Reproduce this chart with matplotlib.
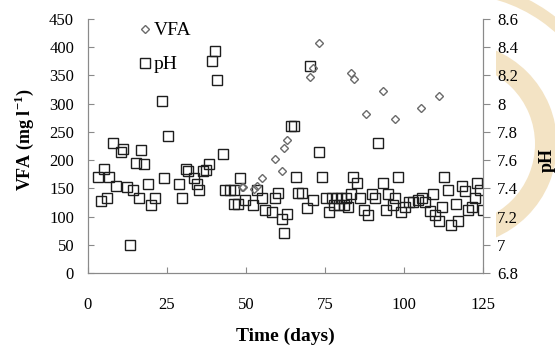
import numpy as np
import matplotlib
matplotlib.use("Agg")
import matplotlib.pyplot as plt
from matplotlib.patches import Wedge
from matplotlib.ticker import FuncFormatter

plt.rcParams['font.family'] = ['Liberation Serif', 'DejaVu Serif']
plt.rcParams['mathtext.fontset'] = 'custom'
plt.rcParams['mathtext.rm'] = 'Liberation Serif:bold'
plt.rcParams['mathtext.bf'] = 'Liberation Serif:bold'

# pH readings (squares, right axis)
ph_days = [3.1, 4.1, 5.2, 5.9, 6.7, 7.8, 8.9, 10.3, 11.2, 12.2, 13.3, 14.1, 15.1, 16.1,
           16.9, 17.8, 18.9, 19.8, 21.3, 23.3, 24.1, 25.2, 28.9, 29.8, 31.0, 31.8, 33.4,
           34.4, 35.2, 36.3, 37.2, 38.2, 39.1, 40.2, 40.9, 42.6, 43.4, 45.0, 46.3, 46.3,
           47.4, 48.2, 49.7, 52.1, 53.4, 55.0, 56.0, 58.3, 59.2, 60.2, 61.3, 62.1, 63.1,
           64.2, 65.2, 65.8, 66.5, 67.8, 69.4, 70.3, 71.3, 73.2, 74.2, 75.3, 76.3, 77.3,
           77.8, 78.8, 79.4, 80.2, 81.0, 81.6, 82.4, 83.2, 84.0, 85.2, 86.1, 87.4, 88.5,
           89.8, 90.8, 91.7, 93.2, 94.2, 95.0, 96.4, 97.1, 98.2, 99.0, 100.3, 101.7, 103.0,
           104.5, 105.6, 106.8, 108.2, 109.3, 109.8, 111.2, 111.9, 112.8, 113.8, 114.9,
           116.5, 117.2, 118.2, 119.3, 120.4, 121.6, 122.5, 123.2, 124.0, 124.9]
ph_vals = [7.48, 7.31, 7.54, 7.33, 7.48, 7.72, 7.42, 7.66, 7.68, 7.41, 7.00, 7.39, 7.58, 7.33,
           7.67, 7.57, 7.43, 7.28, 7.33, 8.02, 7.47, 7.77, 7.43, 7.33, 7.54, 7.52, 7.47,
           7.43, 7.39, 7.52, 7.53, 7.57, 8.30, 8.37, 8.17, 7.64, 7.39, 7.39, 7.39, 7.29,
           7.29, 7.47, 7.32, 7.28, 7.39, 7.33, 7.25, 7.23, 7.33, 7.37, 7.18, 7.08, 7.22,
           7.84, 7.84, 7.48, 7.37, 7.37, 7.26, 8.27, 7.32, 7.66, 7.48, 7.33, 7.23, 7.33,
           7.28, 7.33, 7.28, 7.33, 7.28, 7.33, 7.27, 7.36, 7.48, 7.44, 7.33, 7.25, 7.21,
           7.36, 7.33, 7.72, 7.44, 7.25, 7.36, 7.28, 7.33, 7.48, 7.23, 7.27, 7.30, 7.30,
           7.32, 7.33, 7.30, 7.24, 7.36, 7.21, 7.17, 7.27, 7.48, 7.39, 7.14,
           7.29, 7.17, 7.42, 7.38, 7.25, 7.27, 7.33, 7.44, 7.39, 7.25]

# VFA readings (diamonds, left axis)
vfa_days = [48.6, 49.2, 52.6, 53.4, 55.1, 59.2, 61.3, 62.1, 63.1, 70.3, 71.1, 73.2,
            83.2, 84.3, 88.0, 93.2, 97.2, 105.3, 111.2]
vfa_vals = [152, 152, 148, 154, 168, 202, 181, 221, 236, 348, 364, 408,
            354, 343, 282, 322, 272, 292, 313]

x_ticks = [0, 25, 50, 75, 100, 125]
vfa_ticks = list(range(0, 451, 50))
ph_ticks = [6.8, 7.0, 7.2, 7.4, 7.6, 7.8, 8.0, 8.2, 8.4, 8.6]

W, H = 555, 350
fig = plt.figure(figsize=(W / 100, H / 100), dpi=100)

# decorative tan arcs on the right edge
bg = fig.add_axes([496 / W, 0, 1 - 496 / W, 1], zorder=0)
bg.set_xlim(496, W)
bg.set_ylim(H, 0)
bg.axis('off')
tan = '#f3e3c4'
bg.add_patch(Wedge((455, 144), 102, 0, 360, width=22, color=tan, lw=0))
bg.add_patch(Wedge((455, 144), 162, 200, 340, width=12, color=tan, lw=0))

ax = fig.add_axes([88 / W, 1 - 273 / H, 395 / W, 254 / H], zorder=1)
ax2 = ax.twinx()

sq, = ax2.plot(ph_days, ph_vals, ls='none', marker='s', ms=6.5, mfc='none',
               mec='#1e1e1e', mew=1.0, label='pH')
dm, = ax.plot(vfa_days, vfa_vals, ls='none', marker='D', ms=4.2, mfc='none',
              mec='#6a6a6a', mew=1.0, label='VFA')
ax.set_zorder(2)
ax.patch.set_visible(False)

ax.set_xlim(0, 125)
ax.set_ylim(0, 450)
ax2.set_ylim(6.8, 8.6)
ax.set_xticks(x_ticks)
ax.set_yticks(vfa_ticks)
ax2.set_yticks(ph_ticks)
ax2.yaxis.set_major_formatter(FuncFormatter(lambda v, p: '%g' % round(v, 1)))

spine_c = '#8a8a8a'
for a in (ax, ax2):
    a.spines['top'].set_visible(False)
    for s in ('left', 'right', 'bottom'):
        a.spines[s].set_color(spine_c)
ax.tick_params(axis='both', direction='in', length=4, color=spine_c, labelsize=12)
ax.tick_params(axis='x', pad=17.5)
ax.tick_params(axis='y', pad=10)
ax2.tick_params(axis='y', direction='out', length=5, color=spine_c, labelsize=12, pad=5)

ax.set_xlabel('Time (days)', fontsize=14, fontweight='bold', labelpad=10)
ax.set_ylabel('VFA (mg l$^{-1}$)', fontsize=13, fontweight='bold', va='center')
ax.yaxis.set_label_coords(-0.162, 0.524)
ax2.set_ylabel('pH', fontsize=13, fontweight='bold', va='center', rotation=90)
ax2.yaxis.set_label_coords(1.162, 0.445)

ax.legend([dm, sq], ['VFA', 'pH'], loc='upper left', bbox_to_anchor=(0.11, 1.02),
          frameon=False, fontsize=14, handlelength=0.6, handletextpad=0.15,
          labelspacing=0.85, borderaxespad=0)

fig.savefig('out.png', dpi=100)
